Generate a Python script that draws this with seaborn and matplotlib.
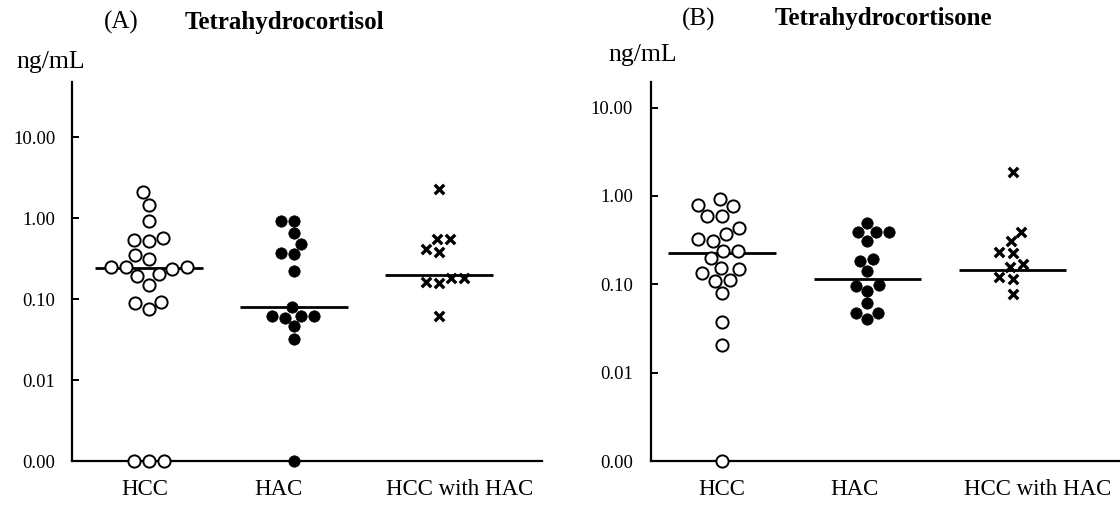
import numpy as np
import pandas as pd
import matplotlib
matplotlib.use("Agg")
import matplotlib.pyplot as plt
import seaborn as sns

# ---------------- data ----------------
groups = ["HCC", "HAC", "HCC with HAC"]

# (A) Tetrahydrocortisol, ng/mL (0 = below detection, drawn on the 0.00 line)
thf_hcc = [2.11, 1.45, 0.92, 0.525, 0.571, 0.535, 0.349, 0.309, 0.202, 0.246,
           0.235, 0.250, 0.250, 0.192, 0.149, 0.0885, 0.0746, 0.0926, 0, 0, 0]
thf_hac = [0.918, 0.918, 0.647, 0.473, 0.373, 0.356, 0.222, 0.079, 0.0617,
           0.0588, 0.0617, 0.0617, 0.0464, 0.0318, 0]
thf_both = [2.28, 0.55, 0.55, 0.384, 0.414, 0.183, 0.183, 0.156, 0.161, 0.0622]
thf_median = [0.243, 0.0796, 0.198]

# (B) Tetrahydrocortisone, ng/mL
the_hcc = [0.918, 0.770, 0.791, 0.598, 0.598, 0.431, 0.368, 0.309, 0.323, 0.238,
           0.238, 0.197, 0.133, 0.148, 0.152, 0.112, 0.109, 0.0791, 0.0372, 0.0206, 0]
the_hac = [0.499, 0.394, 0.394, 0.388, 0.312, 0.184, 0.194, 0.142, 0.0847,
           0.0957, 0.0982, 0.0610, 0.0477, 0.0401, 0.0469]
the_both = [1.87, 0.388, 0.312, 0.224, 0.230, 0.158, 0.169, 0.114, 0.120, 0.0771]
the_median = [0.228, 0.115, 0.145]

ytick_values = [0.001, 0.01, 0.1, 1, 10]
ytick_labels = ["0.00", "0.01", "0.10", "1.00", "10.00"]
ZERO_POS = 0.001

# ---------------- style ----------------
sns.set_theme(style="white")
plt.rcParams["font.family"] = ["Liberation Serif", "DejaVu Serif"]
plt.rcParams["text.color"] = "black"

W, H = 1120, 507
fig = plt.figure(figsize=(W / 100, H / 100), dpi=100)

axA = fig.add_axes([72 / W, 1 - 461 / H, (542 - 72) / W, (461 - 82) / H])
axB = fig.add_axes([651 / W, 1 - 461 / H, (1120 - 651) / W, (461 - 82) / H])

marker_styles = [
    dict(marker="o", color="white", edgecolor="black", linewidth=1.4, size=8.8),
    dict(marker="o", color="black", edgecolor="black", linewidth=0.5, size=8.2),
    dict(marker="x", color="black", linewidth=2.4, size=6.8),
]


def draw_panel(ax, series, medians, ytop, xlim, label_pos, ypad):
    for g, vals, st in zip(groups, series, marker_styles):
        df = pd.DataFrame({"group": [g] * len(vals),
                           "value": np.maximum(np.asarray(vals, float), ZERO_POS)})
        sns.swarmplot(data=df, x="group", y="value", order=groups, ax=ax,
                      log_scale=True, clip_on=False, zorder=3, **st)
    pos = np.arange(len(groups))
    ax.hlines(medians, pos - 0.37, pos + 0.37, color="black", linewidth=2.0, zorder=2)

    ax.set_yscale("log")
    ax.set_ylim(ZERO_POS, ytop)
    ax.set_xlim(*xlim)
    ax.set_yticks(ytick_values, ytick_labels)
    ax.minorticks_off()
    ax.set_xticks(label_pos, groups)
    ax.set_xlabel("")
    ax.set_ylabel("")
    ax.tick_params(axis="y", direction="in", length=5, width=1.4, labelsize=13.5,
                   pad=ypad, left=True, colors="black")
    ax.tick_params(axis="x", length=0, labelsize=16.5, pad=13, colors="black")
    for s in ["top", "right"]:
        ax.spines[s].set_visible(False)
    for s in ["left", "bottom"]:
        ax.spines[s].set_color("black")
        ax.spines[s].set_linewidth(1.6)
    ax.set_facecolor("white")


draw_panel(axA, [thf_hcc, thf_hac, thf_both], thf_median, 47.8,
           (-0.53, 2.71), [-0.03, 0.89, 2.14], 12)
draw_panel(axB, [the_hcc, the_hac, the_both], the_median, 19.5,
           (-0.49, 2.74), [0.0, 0.91, 2.17], 13)

# titles and unit labels
fig.text(121 / W, 1 - 22 / H, "(A)", ha="center", va="center", fontsize=18)
fig.text(284 / W, 1 - 22 / H, "Tetrahydrocortisol", ha="center", va="center",
         fontsize=18, fontweight="bold")
fig.text(51 / W, 1 - 62 / H, "ng/mL", ha="center", va="center", fontsize=18.5)

fig.text(699 / W, 1 - 19 / H, "(B)", ha="center", va="center", fontsize=18)
fig.text(883 / W, 1 - 19 / H, "Tetrahydrocortisone", ha="center", va="center",
         fontsize=18, fontweight="bold")
fig.text(643 / W, 1 - 55 / H, "ng/mL", ha="center", va="center", fontsize=18.5)

fig.savefig("out.png", dpi=100, facecolor="white")
